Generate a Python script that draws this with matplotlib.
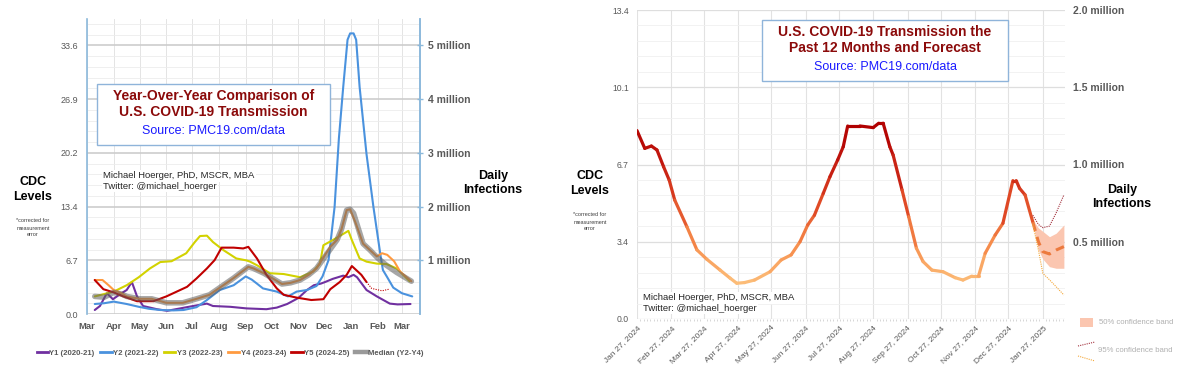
import numpy as np
import matplotlib
matplotlib.use('Agg')
import matplotlib.pyplot as plt
import matplotlib.dates as mdates
from matplotlib.collections import LineCollection
from matplotlib.colors import LinearSegmentedColormap, Normalize
from matplotlib.lines import Line2D
from matplotlib.patches import Rectangle
import pandas as pd

plt.rcParams['font.family'] = ['Liberation Sans', 'DejaVu Sans']

# ================= LEFT CHART DATA (days since Mar 1) =================
month_labels = ['Mar', 'Apr', 'May', 'Jun', 'Jul', 'Aug', 'Sep', 'Oct', 'Nov', 'Dec', 'Jan', 'Feb', 'Mar']
month_days = [0, 31, 61, 92, 122, 153, 184, 214, 245, 275, 306, 337, 365]
left_ytick_labels = ['0.0', '6.7', '13.4', '20.2', '26.9', '33.6']
left_right_labels = ['1 million', '2 million', '3 million', '4 million', '5 million']
LEVELS_PER_MILLION_LEFT = 6.72

y1_days = [9, 15, 23, 30, 40, 46, 52, 58, 65, 81, 93, 108, 123, 139, 146, 166, 185, 208, 220, 232, 245, 255, 263, 271, 276, 285, 297, 303, 309, 313, 324, 336, 351, 360, 375]
y1_vals = [0.5, 1.0, 2.6, 1.85, 2.6, 3.0, 4.0, 2.2, 1.0, 0.6, 0.4, 0.7, 1.0, 1.3, 1.0, 0.9, 0.7, 0.6, 0.8, 1.25, 2.0, 3.0, 3.6, 3.8, 4.0, 4.4, 4.8, 4.6, 4.9, 4.6, 3.0, 2.2, 1.3, 1.2, 1.25]

y2_days = [9, 20, 31, 46, 60, 72, 85, 100, 112, 127, 139, 154, 170, 184, 191, 197, 204, 220, 233, 243, 255, 266, 273, 280, 287, 292, 297, 302, 305, 309, 312, 316, 324, 332, 340, 343, 348, 355, 365, 377]
y2_vals = [1.25, 1.35, 1.55, 1.25, 0.9, 0.65, 0.5, 0.45, 0.5, 0.85, 1.75, 3.0, 3.6, 4.7, 4.3, 3.8, 3.2, 2.8, 2.2, 2.8, 3.0, 3.5, 4.7, 6.75, 13.4, 22.0, 28.4, 34.3, 35.1, 35.1, 34.3, 28.4, 20.0, 13.4, 7.5, 5.5, 4.6, 3.3, 2.6, 2.2]

y3_days = [9, 20, 31, 46, 60, 73, 85, 98, 115, 125, 131, 139, 146, 158, 173, 185, 189, 197, 212, 228, 247, 262, 270, 274, 285, 303, 307, 316, 324, 336, 347, 359, 374]
y3_vals = [2.2, 2.5, 2.8, 3.6, 4.6, 5.7, 6.5, 6.6, 7.6, 9.0, 9.75, 9.8, 9.0, 8.0, 6.95, 6.7, 6.55, 6.1, 5.1, 5.0, 4.6, 5.3, 6.3, 8.6, 9.25, 10.4, 9.25, 6.95, 6.55, 6.3, 6.25, 5.7, 4.1]

y4_days = [9, 18, 25, 31, 40, 46, 61, 75, 92, 111, 127, 142, 154, 170, 187, 193, 205, 216, 226, 236, 247, 257, 266, 276, 282, 290, 295, 301, 305, 311, 320, 328, 336, 342, 348, 356, 363, 376]
y4_vals = [4.25, 4.25, 3.6, 3.0, 2.6, 2.2, 1.9, 1.9, 1.4, 1.4, 1.9, 2.4, 3.3, 4.5, 5.9, 5.7, 5.1, 4.4, 3.75, 3.9, 4.25, 4.9, 5.7, 7.4, 8.4, 9.3, 10.6, 13.0, 13.1, 11.5, 8.8, 8.0, 7.2, 7.6, 7.4, 6.6, 5.3, 4.1]

y5_days = [9, 19, 31, 42, 58, 77, 92, 104, 116, 127, 139, 148, 156, 170, 181, 187, 197, 208, 220, 228, 243, 260, 274, 282, 293, 301, 307, 314, 318, 324]
y5_vals = [4.25, 3.1, 2.7, 2.2, 1.6, 1.6, 2.2, 2.8, 3.4, 4.45, 5.7, 6.75, 8.3, 8.3, 8.2, 8.4, 6.95, 4.9, 3.2, 2.4, 2.05, 1.75, 1.85, 3.1, 4.0, 4.9, 6.0, 5.3, 4.9, 4.0]
y5_proj_days = [324, 330, 342, 350]
y5_proj_vals = [4.0, 3.2, 2.9, 3.1]

med_days = [9, 20, 31, 40, 46, 61, 75, 92, 111, 127, 142, 154, 170, 187, 193, 205, 216, 226, 236, 247, 257, 266, 276, 280, 290, 295, 301, 305, 309, 320, 328, 337, 347, 359, 376]
med_vals = [2.2, 2.1, 2.7, 2.5, 2.2, 1.9, 1.9, 1.4, 1.4, 1.9, 2.4, 3.3, 4.5, 5.9, 5.7, 5.1, 4.4, 3.75, 3.9, 4.25, 4.9, 5.7, 7.2, 7.8, 9.3, 10.6, 13.0, 13.1, 12.6, 8.8, 8.0, 7.0, 6.1, 5.2, 4.1]

left_series = [
    ('Y1 (2020-21)', y1_days, y1_vals, '#7030a0'),
    ('Y2 (2021-22)', y2_days, y2_vals, '#4a92de'),
    ('Y3 (2022-23)', y3_days, y3_vals, '#d2d200'),
    ('Y4 (2023-24)', y4_days, y4_vals, '#ff9a40'),
    ('Y5 (2024-25)', y5_days, y5_vals, '#c00000'),
]

# ================= RIGHT CHART DATA (days since Jan 27, 2024) =================
right_start = pd.Timestamp('2024-01-27')
right_end = pd.Timestamp('2025-02-16')
right_tick_dates = pd.date_range('2024-01-01', '2025-01-01', freq='MS') + pd.Timedelta(days=26)
right_ytick_labels = ['0.0', '3.4', '6.7', '10.1', '13.4']
right_right_labels = ['0.5 million', '1.0 million', '1.5 million', '2.0 million']
LEVELS_PER_MILLION_RIGHT = 6.7

hist_days = [0, 7, 13, 18, 24, 29, 34, 45, 54, 63, 75, 84, 90, 97, 106, 120, 130, 139, 147, 154, 160, 168, 174, 181, 186, 190, 201, 213, 218, 222, 228, 231, 239, 245, 252, 258, 266, 276, 287, 294, 302, 308, 314, 323, 330, 339, 342, 345, 350, 357]
hist_vals = [8.17, 7.4, 7.5, 7.33, 6.6, 6.03, 5.16, 4.0, 3.0, 2.59, 2.12, 1.77, 1.55, 1.58, 1.69, 2.05, 2.56, 2.78, 3.35, 4.08, 4.5, 5.45, 6.17, 6.9, 7.47, 8.37, 8.37, 8.3, 8.49, 8.49, 7.47, 7.11, 5.6, 4.44, 3.07, 2.49, 2.12, 2.05, 1.79, 1.69, 1.86, 1.86, 2.85, 3.64, 4.15, 6.0, 6.0, 5.67, 5.38, 4.2]

fc_days = [357, 362, 366, 372, 378, 385]
fc_median = [4.2, 3.35, 2.92, 2.82, 2.99, 3.14]
fc_upper50 = [4.3, 3.95, 3.8, 3.57, 3.72, 4.08]
fc_lower50 = [4.1, 3.0, 2.6, 2.27, 2.2, 2.2]
fc_upper95 = [4.5, 4.1, 3.96, 4.03, 4.6, 5.38]
fc_lower95 = [4.1, 3.0, 1.98, 1.7, 1.4, 1.04]

# ================= FIGURE =================
W, H = 1200, 366
fig = plt.figure(figsize=(W / 100, H / 100), dpi=100)
GRAY = '#595959'
SPINE_BLUE = '#8cb9db'


def fx(px):
    return px / W


def fy(py):
    return 1 - py / H


# ---------- Left axes ----------
axL = fig.add_axes([fx(87), fy(314), fx(420) - fx(87), fy(19) - fy(314)])
axL.set_xlim(0, 386)
axL.set_ylim(0, 36.9)
ymaj = np.arange(len(left_ytick_labels)) * LEVELS_PER_MILLION_LEFT
axL.set_yticks(ymaj)
axL.set_yticklabels(left_ytick_labels, fontsize=6.5, color=GRAY)
axL.set_yticks(np.arange(0, 36.9, LEVELS_PER_MILLION_LEFT / 5), minor=True)
axL.set_xticks(month_days)
axL.set_xticklabels(month_labels, fontsize=6.8, color=GRAY, fontweight='bold')
axL.tick_params(axis='both', which='both', length=0)
axL.tick_params(axis='y', pad=6.5)
axL.tick_params(axis='x', pad=6)
axL.grid(axis='y', which='major', color='#cdcdcd', lw=1.2, zorder=0)
axL.grid(axis='y', which='minor', color='#ececec', lw=0.6, zorder=0)
axL.grid(axis='x', which='major', color='#e4e4e4', lw=0.7, zorder=0)
axL.set_axisbelow(True)
for s in ['top', 'bottom']:
    axL.spines[s].set_visible(False)
for s in ['left', 'right']:
    axL.spines[s].set_color(SPINE_BLUE)
    axL.spines[s].set_linewidth(1.2)

handles = []
for name, d, v, c in left_series:
    h, = axL.plot(d, v, color=c, lw=1.5, label=name, zorder=3, solid_capstyle='round')
    handles.append(h)
axL.plot(y5_proj_days, y5_proj_vals, color='#c00000', lw=0.8, ls=(0, (1, 1.2)), zorder=3)
hm, = axL.plot(med_days, med_vals, color='#606060', lw=4.0, alpha=0.55, label='Median (Y2-Y4)', zorder=4,
               solid_capstyle='round')
handles.append(hm)

axL2 = axL.twinx()
axL2.set_ylim(0, 36.9 / LEVELS_PER_MILLION_LEFT)
axL2.set_yticks(np.arange(1, len(left_right_labels) + 1))
axL2.set_yticklabels(left_right_labels, fontsize=7.5, color=GRAY, fontweight='bold')
axL2.tick_params(axis='y', direction='inout', length=5, width=1, color=SPINE_BLUE, pad=3)
for s in ['top', 'bottom', 'left']:
    axL2.spines[s].set_visible(False)
axL2.spines['right'].set_color(SPINE_BLUE)
axL2.spines['right'].set_linewidth(1.2)

leg_handles = [Line2D([], [], color=h.get_color(), lw=2) for h in handles[:5]] + \
              [Line2D([], [], color='#9a9a9a', lw=3.2)]
fig.legend(leg_handles, [h.get_label() for h in handles], loc='center', bbox_to_anchor=(fx(230), fy(353)),
           ncol=6, frameon=False, handlelength=1.5, handletextpad=0.15, columnspacing=0.7,
           prop={'size': 5.6, 'weight': 'bold'}, labelcolor=GRAY)

# ---------- Right axes ----------
axR = fig.add_axes([fx(637), fy(319), fx(1065) - fx(637), fy(10) - fy(319)])
x0 = mdates.date2num(right_start)
axR.set_xlim(x0, mdates.date2num(right_end))
axR.set_ylim(0, 13.4)
axR.set_yticks(np.arange(len(right_ytick_labels)) * LEVELS_PER_MILLION_RIGHT / 2)
axR.set_yticklabels(right_ytick_labels, fontsize=6.2, color=GRAY)
axR.set_yticks(np.arange(0, 13.41, LEVELS_PER_MILLION_RIGHT / 10), minor=True)
axR.set_xticks(mdates.date2num(right_tick_dates))
axR.set_xticklabels([d.strftime('%b %d, %Y') for d in right_tick_dates], rotation=45, ha='right',
                    rotation_mode='anchor', fontsize=6, color=GRAY)
axR.set_xticks(np.arange(x0, mdates.date2num(right_end), 3), minor=True)
axR.tick_params(axis='y', which='both', length=0, pad=6)
axR.tick_params(axis='x', which='major', length=0, pad=4)
axR.tick_params(axis='x', which='minor', length=1.5, color='#d0d0d0', width=0.6)
axR.grid(axis='y', which='major', color='#dedede', lw=0.9, zorder=0)
axR.grid(axis='y', which='minor', color='#f0f0f0', lw=0.6, zorder=0)
axR.grid(axis='x', which='major', color='#e2e2e2', lw=0.8, zorder=0)
axR.set_axisbelow(True)
for s in axR.spines.values():
    s.set_visible(False)

cmap = LinearSegmentedColormap.from_list('heat', ['#fcbd78', '#f68a4a', '#e04a26', '#c41a10', '#b00000'])
norm = Normalize(vmin=1.6, vmax=8.4)
hx = x0 + np.asarray(hist_days, dtype=float)
hy = np.asarray(hist_vals, dtype=float)
pts = np.column_stack([hx, hy]).reshape(-1, 1, 2)
segs = np.concatenate([pts[:-1], pts[1:]], axis=1)
lc = LineCollection(segs, cmap=cmap, norm=norm, linewidths=2.3, capstyle='round', joinstyle='round', zorder=3)
lc.set_array((hy[:-1] + hy[1:]) / 2)
axR.add_collection(lc)

fx_d = x0 + np.asarray(fc_days, dtype=float)
axR.fill_between(fx_d, fc_lower50, fc_upper50, color='#fbc6b0', lw=0, zorder=2)
axR.plot(fx_d, fc_median, color='#ec7a3e', lw=2.2, ls=(0, (3, 2)), zorder=3)
axR.plot(fx_d, fc_upper95, color='#a3323e', lw=0.8, ls=(0, (1, 1)), zorder=3)
axR.plot(fx_d, fc_lower95, color='#f4a83a', lw=0.8, ls=(0, (1, 1)), zorder=3)

axR2 = axR.twinx()
axR2.set_ylim(0, 13.4 / LEVELS_PER_MILLION_RIGHT)
axR2.set_yticks(np.arange(1, len(right_right_labels) + 1) * 0.5)
axR2.set_yticklabels(right_right_labels, fontsize=7.5, color=GRAY, fontweight='bold')
axR2.tick_params(axis='y', length=0, pad=6)
for s in axR2.spines.values():
    s.set_visible(False)

# ---------- Overlay (annotations in pixel space) ----------
ov = fig.add_axes([0, 0, 1, 1])
ov.set_xlim(0, W)
ov.set_ylim(H, 0)
ov.axis('off')

DARKRED = '#8b0a0a'
BLUE = '#1a1aff'
# Left title box
ov.add_patch(Rectangle((97, 84), 233, 61, facecolor='white', edgecolor='#8fb4da', lw=1.0, zorder=5))
ov.text(213.5, 96, 'Year-Over-Year Comparison of', ha='center', va='center', fontsize=10, fontweight='bold',
        color=DARKRED, zorder=6)
ov.text(213.5, 111.5, 'U.S. COVID-19 Transmission', ha='center', va='center', fontsize=10, fontweight='bold',
        color=DARKRED, zorder=6)
ov.text(213.5, 131, 'Source: PMC19.com/data', ha='center', va='center', fontsize=9, color=BLUE, zorder=6)

# Right title box
ov.add_patch(Rectangle((762, 20), 246, 61, facecolor='white', edgecolor='#8fb4da', lw=1.0, zorder=5))
ov.text(885, 32, 'U.S. COVID-19 Transmission the', ha='center', va='center', fontsize=10, fontweight='bold',
        color=DARKRED, zorder=6)
ov.text(885, 47.5, 'Past 12 Months and Forecast', ha='center', va='center', fontsize=10, fontweight='bold',
        color=DARKRED, zorder=6)
ov.text(885, 67, 'Source: PMC19.com/data', ha='center', va='center', fontsize=9, color=BLUE, zorder=6)

# Author credits
for (xa, ya) in [(103, 176), (643, 298)]:
    ov.text(xa, ya, 'Michael Hoerger, PhD, MSCR, MBA', ha='left', va='center', fontsize=6.8, color='#262626',
            bbox=dict(facecolor='white', edgecolor='none', pad=1.0), zorder=6)
    ov.text(xa, ya + 10.5, 'Twitter: @michael_hoerger', ha='left', va='center', fontsize=6.8, color='#262626',
            bbox=dict(facecolor='white', edgecolor='none', pad=1.0), zorder=6)

# Axis titles
for (xc, yc, ys) in [(33, 182, 221), (590, 176, 215)]:
    ov.text(xc, yc, 'CDC', ha='center', va='center', fontsize=9, fontweight='bold', color='black')
    ov.text(xc, yc + 15, 'Levels', ha='center', va='center', fontsize=9, fontweight='bold', color='black')
    for k, t in enumerate(['*corrected for', 'measurement', 'error']):
        ov.text(xc, ys + 7 * k, t, ha='center', va='center', fontsize=4, color='#404040')
for (xc, yc) in [(493, 176), (1122, 190)]:
    ov.text(xc, yc, 'Daily', ha='center', va='center', fontsize=9, fontweight='bold', color='black')
    ov.text(xc, yc + 14, 'Infections', ha='center', va='center', fontsize=9, fontweight='bold', color='black')

# Right-chart legend
ov.add_patch(Rectangle((1080, 318), 13, 9, facecolor='#fbc6b0', edgecolor='none'))
ov.text(1099, 323, '50% confidence band', ha='left', va='center', fontsize=5.6, color='#b0b0b0')
ov.plot([1078, 1095], [346, 342], color='#a3323e', lw=0.8, ls=(0, (1, 1)))
ov.plot([1078, 1095], [356, 361], color='#f4a83a', lw=0.8, ls=(0, (1, 1)))
ov.text(1098, 351, '95% confidence band', ha='left', va='center', fontsize=5.6, color='#b0b0b0')

fig.savefig('out.png', dpi=100, facecolor='white')
